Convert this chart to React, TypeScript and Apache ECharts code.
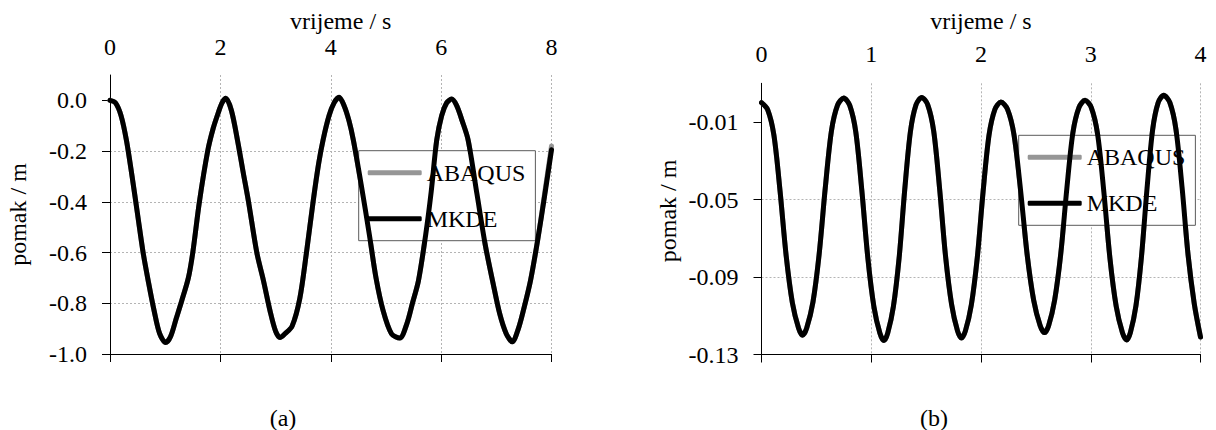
import React, { useEffect, useRef } from "react";
import * as echarts from "echarts";

// ---- (a) ----
const timeA = [0, 0.1, 0.2, 0.3, 0.4, 0.5, 0.6, 0.7, 0.8, 0.9, 1.01, 1.1, 1.2, 1.3, 1.42, 1.5, 1.62, 1.77, 1.87, 1.96, 2.03, 2.1, 2.2, 2.31, 2.41, 2.51, 2.66, 2.78, 2.9, 3.0, 3.08, 3.17, 3.3, 3.44, 3.56, 3.68, 3.78, 3.86, 3.97, 4.06, 4.15, 4.24, 4.33, 4.41, 4.55, 4.7, 4.82, 4.95, 5.1, 5.25, 5.38, 5.48, 5.59, 5.72, 5.82, 5.92, 6.01, 6.1, 6.19, 6.28, 6.38, 6.49, 6.65, 6.8, 6.94, 7.06, 7.18, 7.29, 7.4, 7.5, 7.62, 7.75, 7.88, 8.0];
const mkdeA = [0, -0.01, -0.06, -0.16, -0.3, -0.45, -0.6, -0.72, -0.83, -0.92, -0.955, -0.93, -0.86, -0.79, -0.7, -0.6, -0.4, -0.2, -0.11, -0.05, -0.01, 0.008, -0.04, -0.157, -0.28, -0.4, -0.6, -0.71, -0.83, -0.91, -0.935, -0.92, -0.89, -0.78, -0.6, -0.4, -0.25, -0.157, -0.06, -0.01, 0.012, -0.02, -0.08, -0.157, -0.33, -0.53, -0.7, -0.83, -0.92, -0.937, -0.88, -0.8, -0.71, -0.53, -0.36, -0.157, -0.06, -0.01, 0.005, -0.02, -0.08, -0.157, -0.37, -0.57, -0.72, -0.84, -0.92, -0.952, -0.9, -0.82, -0.71, -0.55, -0.37, -0.195];
const abaqusA = [0, -0.01, -0.06, -0.16, -0.3, -0.45, -0.6, -0.72, -0.83, -0.92, -0.955, -0.93, -0.86, -0.79, -0.7, -0.6, -0.4, -0.2, -0.11, -0.05, -0.01, 0.008, -0.04, -0.157, -0.28, -0.4, -0.6, -0.71, -0.83, -0.91, -0.935, -0.92, -0.89, -0.78, -0.6, -0.4, -0.25, -0.157, -0.06, -0.01, 0.012, -0.02, -0.08, -0.157, -0.33, -0.53, -0.7, -0.83, -0.92, -0.937, -0.88, -0.8, -0.71, -0.53, -0.36, -0.157, -0.06, -0.01, 0.005, -0.02, -0.08, -0.157, -0.37, -0.57, -0.72, -0.84, -0.92, -0.952, -0.9, -0.82, -0.71, -0.55, -0.36, -0.18];
const yTicksA = [-1.0, -0.8, -0.6, -0.4, -0.2, 0.0];

// ---- (b) ----
const timeB = [0, 0.056, 0.113, 0.169, 0.225, 0.281, 0.338, 0.375,
  0.412, 0.469, 0.525, 0.581, 0.637, 0.693, 0.749,
  0.804, 0.859, 0.914, 0.969, 1.024, 1.079, 1.116,
  1.15, 1.202, 1.254, 1.305, 1.357, 1.408, 1.46,
  1.514, 1.569, 1.623, 1.677, 1.732, 1.786, 1.822,
  1.858, 1.912, 1.966, 2.019, 2.073, 2.127, 2.181,
  2.241, 2.3, 2.36, 2.42, 2.48, 2.539, 2.579,
  2.616, 2.671, 2.727, 2.782, 2.837, 2.893, 2.948,
  3.005, 3.062, 3.119, 3.175, 3.232, 3.289, 3.327,
  3.361, 3.412, 3.462, 3.513, 3.564, 3.614, 3.665,
  3.721, 3.776, 3.832, 3.887, 3.943, 4.0];
const mkdeB = [0, -0.0036, -0.0168, -0.0456, -0.0792, -0.1032, -0.1164, -0.12,
  -0.1163, -0.1029, -0.0784, -0.0441, -0.0147, -0.0013, 0.0024,
  -0.0014, -0.0151, -0.0452, -0.0802, -0.1053, -0.119, -0.1228,
  -0.119, -0.1052, -0.0801, -0.045, -0.0149, -0.0011, 0.0027,
  -0.001, -0.0147, -0.0445, -0.0793, -0.1041, -0.1178, -0.1215,
  -0.1178, -0.1044, -0.0801, -0.046, -0.0168, -0.0034, 0.0003,
  -0.0033, -0.0164, -0.0449, -0.0782, -0.102, -0.1151, -0.1187,
  -0.1151, -0.1019, -0.0779, -0.0444, -0.0156, -0.0024, 0.0012,
  -0.0025, -0.0161, -0.0458, -0.0804, -0.1052, -0.1188, -0.1225,
  -0.1187, -0.1048, -0.0796, -0.0442, -0.0139, 0.0, 0.0038,
  0.0, -0.0137, -0.0437, -0.0787, -0.1037, -0.121];
const abaqusB = [0, -0.0036, -0.0168, -0.0456, -0.0792, -0.1032, -0.1164, -0.12,
  -0.1163, -0.1029, -0.0784, -0.0441, -0.0147, -0.0013, 0.0024,
  -0.0014, -0.0151, -0.0452, -0.0802, -0.1053, -0.119, -0.1228,
  -0.119, -0.1052, -0.0801, -0.045, -0.0149, -0.0011, 0.0027,
  -0.001, -0.0147, -0.0445, -0.0793, -0.1041, -0.1178, -0.1215,
  -0.1178, -0.1044, -0.0801, -0.046, -0.0168, -0.0034, 0.0003,
  -0.0033, -0.0164, -0.0449, -0.0782, -0.102, -0.1151, -0.1187,
  -0.1151, -0.1019, -0.0779, -0.0444, -0.0156, -0.0024, 0.0012,
  -0.0025, -0.0161, -0.0458, -0.0804, -0.1052, -0.1188, -0.1225,
  -0.1187, -0.1048, -0.0796, -0.0442, -0.0139, 0.0, 0.0038,
  0.0, -0.0137, -0.0437, -0.0787, -0.1037, -0.121];
const yTicksB = [-0.13, -0.09, -0.05, -0.01];

const seriesNames = ["ABAQUS", "MKDE"];
const xTitle = "vrijeme / s";
const yTitle = "pomak / m";
const panelLabels = ["(a)", "(b)"];

const FONT = "Liberation Serif";
const GREY = "#969696";

const pairs = (t: number[], v: number[]) => t.map((x, i) => [x, v[i]]);

function topAxis(gridIndex: number, max: number, interval: number, labelMargin: number, nameGap: number, namePad: number[]) {
  return {
    type: "value",
    gridIndex,
    position: "top",
    min: 0,
    max,
    interval,
    axisLine: { show: false },
    axisTick: { show: false },
    axisLabel: { fontFamily: FONT, fontSize: 24, color: "#000", margin: labelMargin },
    splitLine: { show: true, lineStyle: { color: "#b4b4b4", type: [2, 2], width: 1 } },
    name: xTitle,
    nameLocation: "middle",
    nameGap,
    nameMoveOverlap: false,
    nameTextStyle: { fontFamily: FONT, fontSize: 24, color: "#000", padding: namePad },
  };
}

function zeroAxis(gridIndex: number, max: number, interval: number) {
  return {
    type: "value",
    gridIndex,
    position: "bottom",
    min: 0,
    max,
    interval,
    axisLine: { show: true, onZero: true, lineStyle: { color: "#000", width: 1 } },
    axisTick: { show: true, length: 8, lineStyle: { color: "#000", width: 1 } },
    axisLabel: { show: false },
    splitLine: { show: false },
  };
}

function leftAxis(gridIndex: number, min: number, max: number, interval: number, ticks: number[], digits: number, nameGap: number, namePad: number[]) {
  return {
    type: "value",
    gridIndex,
    min,
    max,
    interval,
    axisLine: { show: true, onZero: false, lineStyle: { color: "#000", width: 1 } },
    axisTick: { show: true, length: 8, customValues: ticks, lineStyle: { color: "#000", width: 1 } },
    axisLabel: {
      customValues: ticks,
      fontFamily: FONT,
      fontSize: 24,
      color: "#000",
      margin: 23,
      formatter: (v: number) => v.toFixed(digits),
    },
    splitLine: { show: true, showMaxLine: false, lineStyle: { color: "#b4b4b4", type: [2, 2], width: 1 } },
    name: yTitle,
    nameLocation: "middle",
    nameGap,
    nameMoveOverlap: false,
    nameTextStyle: { fontFamily: FONT, fontSize: 24, color: "#000", padding: namePad },
  };
}

function legendAt(left: number, top: number) {
  return {
    data: seriesNames,
    orient: "vertical",
    left,
    top,
    padding: [10, 10, 10, 9],
    icon: "roundRect",
    itemWidth: 54,
    itemHeight: 5,
    itemGap: 22,
    borderColor: "#5a5a5a",
    borderWidth: 1,
    backgroundColor: "#fff",
    textStyle: { fontFamily: FONT, fontSize: 24, color: "#000", lineHeight: 24 },
    selectedMode: false,
  };
}

function line(name: string, color: string, xAxisIndex: number, yAxisIndex: number, data: number[][]) {
  return {
    type: "line",
    name,
    xAxisIndex,
    yAxisIndex,
    data,
    symbol: "none",
    smooth: 0.3,
    lineStyle: { color, width: 5, cap: "round", join: "round" },
    itemStyle: { color },
    z: name === "MKDE" ? 4 : 3,
  };
}

export default function App() {
  const ref = useRef<HTMLDivElement>(null);
  useEffect(() => {
    if (!ref.current) return;
    const chart = echarts.init(ref.current, null, { renderer: "svg" });
    chart.setOption({
      animation: false,
      backgroundColor: "#fff",
      textStyle: { fontFamily: FONT },
      grid: [
        { left: 110, top: 75, width: 441.5, height: 279, containLabel: false },
        { left: 761.5, top: 83.3, width: 439, height: 271.2, containLabel: false },
      ],
      xAxis: [
        topAxis(0, 8, 2, 16, 42.5, [0, 0, 0, 20]),
        zeroAxis(0, 8, 2),
        topAxis(1, 4, 1, 17.5, 50.5, [0, 0, 0, 0]),
        zeroAxis(1, 4, 1),
      ],
      yAxis: [
        leftAxis(0, -1.0, 0.1, 0.2, yTicksA, 1, 80, [0, 0, 0, 0]),
        leftAxis(1, -0.13, 0.01, 0.04, yTicksB, 2, 82, [0, 0, 0, 16]),
      ],
      legend: [legendAt(358.7, 150.7), legendAt(1018.7, 135.3)],
      series: [
        line(seriesNames[0], GREY, 0, 0, pairs(timeA, abaqusA)),
        line(seriesNames[1], "#000", 0, 0, pairs(timeA, mkdeA)),
        line(seriesNames[0], GREY, 2, 1, pairs(timeB, abaqusB)),
        line(seriesNames[1], "#000", 2, 1, pairs(timeB, mkdeB)),
      ],
      graphic: [
        { type: "text", x: 283, y: 418, style: { text: panelLabels[0], font: `24px '${FONT}'`, fill: "#000", align: "center", verticalAlign: "middle" } },
        { type: "text", x: 934, y: 418, style: { text: panelLabels[1], font: `24px '${FONT}'`, fill: "#000", align: "center", verticalAlign: "middle" } },
      ],
    });
    return () => chart.dispose();
  }, []);
  return <div ref={ref} style={{ position: "fixed", left: 0, top: 0, width: 1216, height: 430 }} />;
}
